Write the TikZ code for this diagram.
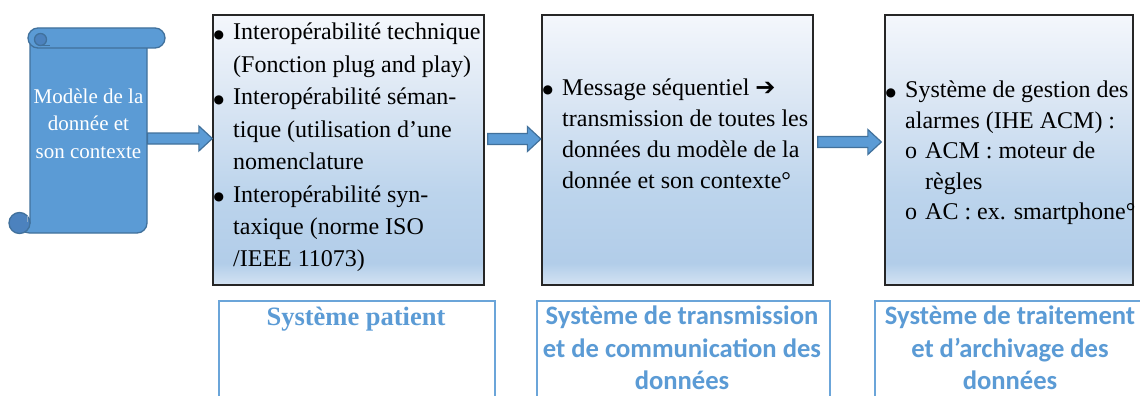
\documentclass[tikz,border=0pt]{standalone}
\usepackage{fontspec}
\setmainfont{Liberation Serif}
\newfontfamily\calfont{Carlito}
\newfontfamily\symfont{DejaVu Sans}
\usetikzlibrary{calc}
\definecolor{sfill}{HTML}{5B9BD5}
\definecolor{sline}{HTML}{41719C}
\definecolor{sdark}{HTML}{4C82BE}
\definecolor{lblue}{HTML}{5B9BD5}
\definecolor{gA}{HTML}{F4F7FC}
\definecolor{gB}{HTML}{DCE7F4}
\definecolor{gC}{HTML}{BCD4EC}
\definecolor{gD}{HTML}{B2CDE9}
\definecolor{gE}{HTML}{D4E3F3}
\pgfdeclareverticalshading{boxgrad}{100bp}{color(0bp)=(gE); color(25bp)=(gE); color(29bp)=(gD); color(42bp)=(gC); color(60bp)=(gB); color(75bp)=(gA); color(100bp)=(gA)}
\newcommand\blockarr[2]{\draw[barrow] ($(#1)+(0,-5.5)$) -- ($(#2)+(-13.5,-5.5)$) -- ($(#2)+(-13.5,-12.5)$) -- (#2) -- ($(#2)+(-13.5,12.5)$) -- ($(#2)+(-13.5,5.5)$) -- ($(#1)+(0,5.5)$) -- cycle;}
\newcommand\bul{\llap{\raisebox{1.5pt}{\symfont\fontsize{12}{12}\selectfont ●}\hspace{9pt}}}
\begin{document}
\begin{tikzpicture}[x=1pt,y=-1pt,
  scrollst/.style={fill=sfill, draw=sline, line width=1.3pt},
  barrow/.style={fill=sfill, draw=sline, line width=1.2pt, line join=miter},
  gbox/.style={draw=black!85, line width=1.3pt, shading=boxgrad, inner sep=0pt},
  lbox/.style={draw=lblue!90!white, line width=1.6pt, inner sep=0pt},
  txt/.style={anchor=base west, inner sep=0pt, font=\fontsize{24}{24}\selectfont},
  stxt/.style={anchor=base, inner sep=0pt, text=white, font=\fontsize{21}{21}\selectfont},
  btxt/.style={anchor=base, inner sep=0pt, text=lblue, font=\calfont\bfseries\fontsize{26.6}{26.6}\selectfont},
  ptxt/.style={anchor=base, inner sep=0pt, text=lblue, font=\bfseries\fontsize{26.5}{26.5}\selectfont}]
\useasboundingbox (0,0) rectangle (1140,396);
\clip (0,0) rectangle (1140,396);
\fill[white] (0,0) rectangle (1140,396);

% scroll
\draw[scrollst] (30,44) -- (147,44) {[rounded corners=10pt] -- (147,233) -- (19.5,233)} -- (19.5,223) -- (30,223) -- cycle;
\draw[scrollst, fill=sdark] (19.5,223) circle[radius=10.5];
\draw[sline!60!white, line width=1pt] (27,216) -- (27,222);
\draw[scrollst, rounded corners=10pt] (28,28) rectangle (165,48);
\draw[scrollst, fill=sdark] (40.5,39.5) circle[radius=6];
\draw[sline, line width=1.3pt] (40.5,45.5) -- (50,45.5);
\node[stxt] (s1) at (88.5,103) {Modèle de la};
\node[stxt] (s2) at (88.5,130.5) {donnée et};
\node[stxt] (s3) at (88.5,158) {son contexte};
\coordinate (scrollE) at (147.5,138.5);

% gradient boxes
\node[gbox, minimum width=271pt, minimum height=270pt] (box1) at (348.5,150) {};
\node[gbox, minimum width=271pt, minimum height=270pt] (box2) at (677.5,150) {};
\node[gbox, minimum width=248pt, minimum height=270pt] (box3) at (1009,150) {};

% box1 text
\node[txt] (b1l1) at (233,40) {\bul Interopérabilité technique};
\node[txt] (b1l2) at (233,72.4) {(Fonction plug and play)};
\node[txt] (b1l3) at (233,104.8) {\bul Interopérabilité séman-};
\node[txt] (b1l4) at (233,137.2) {tique (utilisation d’une};
\node[txt] (b1l5) at (233,169.6) {nomenclature};
\node[txt] (b1l6) at (233,202) {\bul Interopérabilité syn-};
\node[txt] (b1l7) at (233,234.4) {taxique (norme ISO};
\node[txt] (b1l8) at (233,266.8) {/IEEE 11073)};

% box2 text
\node[txt] (b2l1) at (562,95) {\bul Message séquentiel {\symfont\bfseries ➔}};
\node[txt] (b2l2) at (562,126) {transmission de toutes les};
\node[txt] (b2l3) at (562,157) {données du modèle de la};
\node[txt] (b2l4) at (562,188) {donnée et son contexte°};

% box3 text
\node[txt] (b3l1) at (905,97.5) {\bul Système de gestion des};
\node[txt] (b3l2) at (905,128.1) {alarmes (IHE ACM) :};
\node[txt] (b3l3) at (925,158.7) {\llap{o\hspace{8pt}}ACM : moteur de};
\node[txt] (b3l4) at (925,189.3) {règles};
\node[txt] (b3l5) at (925,219.9) {\llap{o\hspace{8pt}}AC : ex. smartphone°};

% block arrows
\coordinate (a1e) at ($(box1.west)+(0,-11.5)$);
\blockarr{scrollE}{a1e}
\coordinate (a2s) at ($(box1.east)+(3,-11)$);
\coordinate (a2e) at ($(box2.west)+(-0.5,-11)$);
\blockarr{a2s}{a2e}
\coordinate (a3s) at ($(box2.east)+(4,-8)$);
\coordinate (a3e) at ($(box3.west)+(-3,-8)$);
\blockarr{a3s}{a3e}

% bottom boxes
\node[lbox, anchor=north west, minimum width=276pt, minimum height=130pt] (p1) at (218,300) {};
\node[lbox, anchor=north west, minimum width=293pt, minimum height=130pt] (p2) at (536,300) {};
\node[lbox, anchor=north west, minimum width=272pt, minimum height=130pt] (p3) at (874,300) {};
\node[ptxt] (p1t) at (356,325) {Système patient};
\node[btxt] (p2t1) at (682,324) {Système de transmission};
\node[btxt] (p2t2) at (682,357) {et de communication des};
\node[btxt] (p2t3) at (682,389) {données};
\node[btxt] (p3t1) at (1010,324) {Système de traitement};
\node[btxt] (p3t2) at (1010,357) {et d’archivage des};
\node[btxt] (p3t3) at (1010,389) {données};
\end{tikzpicture}
\end{document}
